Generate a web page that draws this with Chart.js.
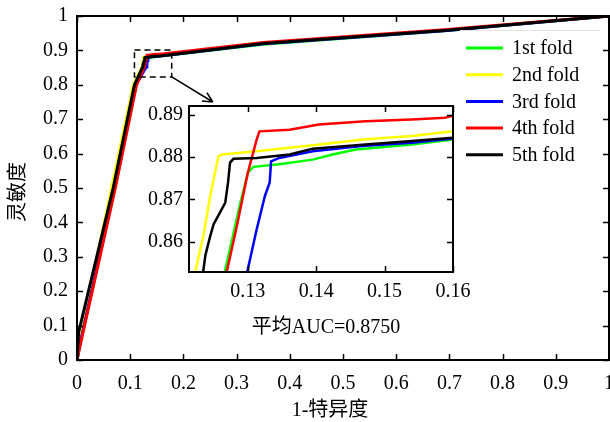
<!DOCTYPE html>
<html>
<head>
<meta charset="utf-8">
<script src="https://cdn.jsdelivr.net/npm/chart.js@4.4.1/dist/chart.umd.min.js"></script>
<style>
    body { margin: 0; background: #fff; }
    #wrap { position: relative; width: 610px; height: 422px; }
    #mainChart { position: absolute; left: 0; top: 0; }
    #zoomChart { position: absolute; left: 130px; top: 100px; }
</style>
</head>
<body>
<div id="wrap">
    <canvas id="mainChart" width="610" height="422"></canvas>
    <canvas id="zoomChart" width="350" height="205"></canvas>
</div>
<script>
const foldLabels = ['1st fold', '2nd fold', '3rd fold', '4th fold', '5th fold'];
const foldColors = ['#00ff00', '#ffff00', '#0000ff', '#ff0000', '#000000'];

// 1 - specificity (x) and sensitivity (y) per fold
const fold1X = [0, 0.006, 0.07, 0.11, 0.1265, 0.1276, 0.1288, 0.13, 0.1308, 0.1346, 0.1395, 0.1424, 0.1458, 0.154, 0.16, 0.35, 0.69, 1];
const fold1Y = [0, 0.05, 0.5, 0.8, 0.852, 0.8597, 0.8684, 0.8763, 0.8777, 0.8783, 0.8794, 0.8806, 0.8818, 0.883, 0.8842, 0.918, 0.957, 1];
const fold2X = [0, 0.004, 0.065, 0.106, 0.1222, 0.1235, 0.1245, 0.1252, 0.1257, 0.1262, 0.1313, 0.1395, 0.1472, 0.154, 0.16, 0.35, 0.69, 1];
const fold2Y = [0, 0.05, 0.5, 0.8, 0.852, 0.8613, 0.8708, 0.8763, 0.8802, 0.8806, 0.8814, 0.8828, 0.8842, 0.885, 0.8861, 0.92, 0.958, 1];
const fold3X = [0, 0.006, 0.071, 0.111, 0.1298, 0.1313, 0.1325, 0.1332, 0.1334, 0.1346, 0.1395, 0.1467, 0.154, 0.16, 0.35, 0.69, 1];
const fold3Y = [0, 0.05, 0.5, 0.8, 0.852, 0.8629, 0.8708, 0.874, 0.879, 0.8798, 0.8814, 0.8826, 0.8834, 0.8844, 0.919, 0.957, 1];
const fold4X = [0, 0.007, 0.072, 0.112, 0.1268, 0.1284, 0.13, 0.1313, 0.1317, 0.1361, 0.1404, 0.1472, 0.154, 0.1588, 0.16, 0.35, 0.69, 1];
const fold4Y = [0, 0.05, 0.5, 0.8, 0.852, 0.8637, 0.8763, 0.8842, 0.8861, 0.8865, 0.8877, 0.8885, 0.8889, 0.8893, 0.8898, 0.923, 0.96, 1];
const fold5X = [0, 0.003, 0.068, 0.108, 0.1234, 0.1238, 0.1245, 0.125, 0.1259, 0.1267, 0.1271, 0.1274, 0.1279, 0.1313, 0.1361, 0.1395, 0.1472, 0.154, 0.16, 0.35, 0.69, 1];
const fold5Y = [0, 0.08, 0.5, 0.8, 0.852, 0.8568, 0.8613, 0.8641, 0.8668, 0.8692, 0.8739, 0.8787, 0.8796, 0.8798, 0.8806, 0.882, 0.883, 0.8838, 0.8846, 0.92, 0.958, 1];

const mainTicks = [0, 0.1, 0.2, 0.3, 0.4, 0.5, 0.6, 0.7, 0.8, 0.9, 1];
const zoomXTicks = [0.13, 0.14, 0.15, 0.16];
const zoomYTicks = [0.86, 0.87, 0.88, 0.89];

const foldX = [fold1X, fold2X, fold3X, fold4X, fold5X];
const foldY = [fold1Y, fold2Y, fold3Y, fold4Y, fold5Y];

const serif = '"Liberation Serif", "Times New Roman", "Noto Sans CJK SC", serif';
const font20 = '20px ' + serif;

function buildSets(width) {
    return foldLabels.map(function(label, i) {
        return {
            label: label,
            data: foldX[i].map(function(x, j) { return { x: x, y: foldY[i][j] }; }),
            borderColor: foldColors[i],
            borderWidth: width,
            pointRadius: 0,
            tension: 0,
            fill: false,
            order: 4 - i
        };
    });
}

function tickList(arr) {
    return function(scale) { scale.ticks = arr.map(function(v) { return { value: v }; }); };
}

// frame with inward ticks on all four sides
function drawFrame(chart, xTicks, yTicks, len) {
    const ctx = chart.ctx;
    const a = chart.chartArea;
    const sx = chart.scales.x, sy = chart.scales.y;
    ctx.save();
    ctx.strokeStyle = '#000';
    ctx.lineWidth = 1.5;
    xTicks.forEach(function(v) {
        const px = Math.round(sx.getPixelForValue(v)) + 0.5;
        ctx.beginPath();
        ctx.moveTo(px, a.bottom); ctx.lineTo(px, a.bottom - len);
        ctx.moveTo(px, a.top); ctx.lineTo(px, a.top + len);
        ctx.stroke();
    });
    yTicks.forEach(function(v) {
        const py = Math.round(sy.getPixelForValue(v)) + 0.5;
        ctx.beginPath();
        ctx.moveTo(a.left, py); ctx.lineTo(a.left + len, py);
        ctx.moveTo(a.right, py); ctx.lineTo(a.right - len, py);
        ctx.stroke();
    });
    ctx.lineWidth = 2;
    ctx.strokeRect(a.left, a.top, a.right - a.left, a.bottom - a.top);
    ctx.restore();
}

const mainDecor = {
    id: 'mainDecor',
    afterDraw: function(chart) {
        const ctx = chart.ctx;
        const sx = chart.scales.x, sy = chart.scales.y;
        drawFrame(chart, mainTicks, mainTicks, 6);

        ctx.save();
        // dashed box around the zoomed region
        const bx1 = sx.getPixelForValue(0.108), bx2 = sx.getPixelForValue(0.178);
        const by1 = sy.getPixelForValue(0.901), by2 = sy.getPixelForValue(0.823);
        ctx.strokeStyle = '#000';
        ctx.lineWidth = 1.5;
        ctx.setLineDash([6, 4]);
        ctx.strokeRect(bx1, by1, bx2 - bx1, by2 - by1);
        ctx.setLineDash([]);

        // arrow to the inset
        const ax = sx.getPixelForValue(0.2554), ay = sy.getPixelForValue(0.75);
        ctx.beginPath();
        ctx.moveTo(bx2, by2);
        ctx.lineTo(ax, ay);
        const ang = Math.atan2(ay - by2, ax - bx2);
        ctx.moveTo(ax, ay);
        ctx.lineTo(ax - 11 * Math.cos(ang - 0.45), ay - 11 * Math.sin(ang - 0.45));
        ctx.moveTo(ax, ay);
        ctx.lineTo(ax - 11 * Math.cos(ang + 0.45), ay - 11 * Math.sin(ang + 0.45));
        ctx.stroke();

        // legend
        ctx.fillStyle = '#fff';
        ctx.fillRect(460, 30, 140, 140);
        ctx.strokeStyle = '#e4e4e4';
        ctx.lineWidth = 1;
        ctx.beginPath();
        ctx.moveTo(460, 30.5); ctx.lineTo(600, 30.5);
        ctx.stroke();
        ctx.font = font20;
        ctx.textBaseline = 'middle';
        ctx.textAlign = 'left';
        chart.data.datasets.forEach(function(ds, i) {
            const y = 48 + i * 26.7;
            ctx.strokeStyle = ds.borderColor;
            ctx.lineWidth = 3;
            ctx.beginPath();
            ctx.moveTo(466, y); ctx.lineTo(503, y);
            ctx.stroke();
            ctx.fillStyle = '#000';
            ctx.fillText(ds.label, 512, y + 1);
        });

        // texts
        ctx.fillStyle = '#000';
        ctx.textAlign = 'center';
        ctx.fillText('平均AUC=0.8750', 326, 328);
        ctx.fillText('1-特异度', 330, 411);
        ctx.translate(19, 192);
        ctx.rotate(-Math.PI / 2);
        ctx.fillText('灵敏度', 0, 0);
        ctx.restore();
    }
};

const zoomDecor = {
    id: 'zoomDecor',
    beforeDatasetsDraw: function(chart) {
        const a = chart.chartArea;
        chart.ctx.save();
        chart.ctx.fillStyle = '#fff';
        chart.ctx.fillRect(a.left, a.top, a.right - a.left, a.bottom - a.top);
        chart.ctx.restore();
    },
    afterDraw: function(chart) {
        drawFrame(chart, zoomXTicks, zoomYTicks, 6);
    }
};

function axisOpts(min, max, ticks, isX, size, pad) {
    return {
        type: 'linear',
        min: min,
        max: max,
        afterBuildTicks: tickList(ticks),
        afterFit: function(scale) {
            if (isX) {
                scale.height = size;
                scale.paddingLeft = 0;
                scale.paddingRight = 0;
            } else {
                scale.width = size;
                scale.paddingTop = 0;
                scale.paddingBottom = 0;
            }
        },
        grid: { display: false, drawTicks: false },
        border: { display: false },
        ticks: {
            color: '#000',
            padding: pad,
            autoSkip: false,
            maxRotation: 0,
            font: { family: serif, size: 20 },
            callback: function(v) { return String(v); }
        }
    };
}

new Chart(document.getElementById('mainChart'), {
    type: 'line',
    data: { datasets: buildSets(3) },
    options: {
        responsive: false,
        animation: false,
        layout: { padding: { top: 16, right: 1, left: 0, bottom: 0 } },
        plugins: { legend: { display: false }, tooltip: { enabled: false } },
        scales: {
            x: axisOpts(0, 1, mainTicks, true, 62, 12),
            y: axisOpts(0, 1, mainTicks, false, 77, 9)
        }
    },
    plugins: [mainDecor]
});

new Chart(document.getElementById('zoomChart'), {
    type: 'line',
    data: { datasets: buildSets(2.5) },
    options: {
        responsive: false,
        animation: false,
        layout: { padding: { top: 6, right: 27, left: 0, bottom: 0 } },
        plugins: { legend: { display: false }, tooltip: { enabled: false } },
        scales: {
            x: axisOpts(0.1214, 0.16, zoomXTicks, true, 33, 8),
            y: axisOpts(0.8528, 0.8921, zoomYTicks, false, 59, 6)
        }
    },
    plugins: [zoomDecor]
});
</script>
</body>
</html>
